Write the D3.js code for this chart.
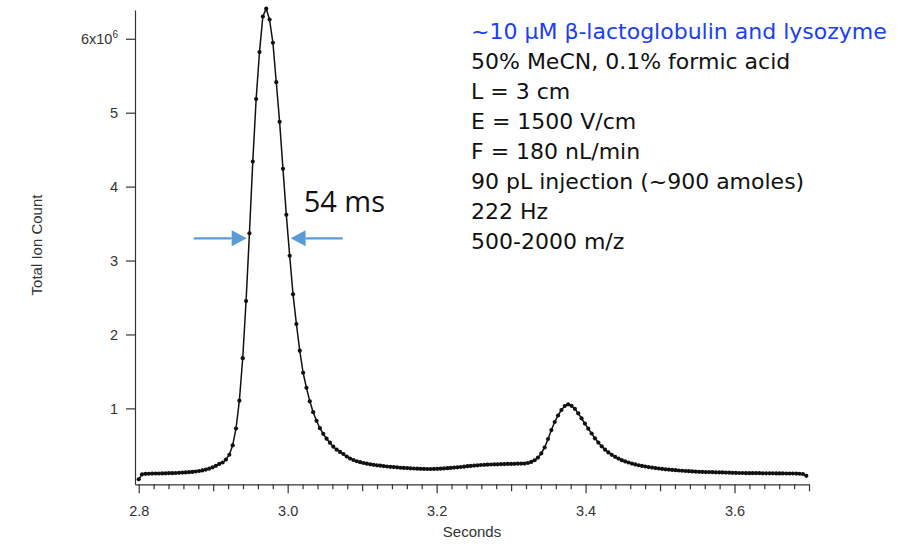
<!DOCTYPE html>
<html lang="en">
<head>
<meta charset="utf-8">
<title>Total Ion Count vs Seconds</title>
<script src="https://cdnjs.cloudflare.com/ajax/libs/d3/7.8.5/d3.min.js"></script>
<style>
  body { margin: 0; background: #fff; }
  svg { display: block; }
  .axis path, .axis line { stroke: #333; stroke-width: 1.2; }
  .axis text { fill: #333; font-family: "Liberation Sans", Arial, sans-serif; font-size: 14.5px; }
  .title { fill: #333; font-family: "Liberation Sans", Arial, sans-serif; font-size: 15px; }
  .info { font-family: "DejaVu Sans", Verdana, sans-serif; font-size: 22px; fill: #111; }
</style>
</head>
<body>
<div id="chart"></div>
<script>

// total ion count in units of 10^6, one scan every 1/222 s starting at 2.8 s
const startTime = 2.8;
const scanRate = 222;
const ionCount = [
  0.041, 0.108, 0.115, 0.116, 0.118, 0.119, 0.119, 0.120, 0.122, 0.123,
  0.124, 0.126, 0.128, 0.131, 0.134, 0.137, 0.141, 0.146, 0.153, 0.161,
  0.172, 0.185, 0.203, 0.223, 0.248, 0.268, 0.308, 0.373, 0.500, 0.728,
  1.104, 1.679, 2.452, 3.368, 4.339, 5.185, 5.820, 6.301, 6.407, 6.259,
  5.946, 5.412, 4.876, 4.240, 3.618, 3.065, 2.543, 2.141, 1.780, 1.482,
  1.278, 1.096, 0.948, 0.832, 0.732, 0.656, 0.590, 0.536, 0.482, 0.441,
  0.411, 0.383, 0.349, 0.322, 0.302, 0.285, 0.272, 0.261, 0.252, 0.243,
  0.237, 0.230, 0.225, 0.219, 0.214, 0.210, 0.206, 0.202, 0.197, 0.195,
  0.192, 0.189, 0.187, 0.184, 0.183, 0.181, 0.180, 0.180, 0.181, 0.183,
  0.185, 0.188, 0.191, 0.195, 0.199, 0.203, 0.207, 0.212, 0.218, 0.222,
  0.226, 0.230, 0.234, 0.237, 0.239, 0.241, 0.242, 0.243, 0.245, 0.246,
  0.248, 0.249, 0.250, 0.252, 0.253, 0.254, 0.261, 0.275, 0.298, 0.335,
  0.390, 0.471, 0.586, 0.707, 0.816, 0.904, 0.978, 1.032, 1.055, 1.035,
  0.994, 0.933, 0.866, 0.795, 0.726, 0.660, 0.595, 0.538, 0.487, 0.442,
  0.404, 0.372, 0.345, 0.321, 0.300, 0.283, 0.268, 0.254, 0.242, 0.231,
  0.222, 0.214, 0.206, 0.199, 0.192, 0.187, 0.181, 0.176, 0.172, 0.168,
  0.164, 0.160, 0.156, 0.153, 0.150, 0.147, 0.145, 0.142, 0.141, 0.139,
  0.138, 0.137, 0.135, 0.134, 0.133, 0.131, 0.130, 0.128, 0.127, 0.126,
  0.126, 0.124, 0.124, 0.123, 0.123, 0.123, 0.122, 0.122, 0.122, 0.122,
  0.120, 0.120, 0.120, 0.119, 0.119, 0.119, 0.118, 0.116, 0.112, 0.088
];

const xMajorTicks = [2.8, 3.0, 3.2, 3.4, 3.6];
const yTicks = [1, 2, 3, 4, 5, 6];

const infoTitle = "~10 \u03bcM \u03b2-lactoglobulin and lysozyme";
const infoLines = [
  "50% MeCN, 0.1% formic acid",
  "L = 3 cm",
  "E = 1500 V/cm",
  "F = 180 nL/min",
  "90 pL injection (~900 amoles)",
  "222 Hz",
  "500-2000 m/z"
];

// peak width marker (seconds / 10^6 counts)
const widthLabel = "54 ms";
const widthLevel = 3.3;
const leftArrow = [2.874, 2.945];
const rightArrow = [3.074, 3.004];

// svg
const width = 897;
const height = 548;

const svg = d3.select("#chart")
  .append("svg")
  .attr("width", width)
  .attr("height", height);

const data = ionCount.map((v, i) => ({t: startTime + i / scanRate, v: v}));

// scales
const x = d3.scaleLinear()
  .domain([2.795, 3.7])
  .range([135, 809]);

const y = d3.scaleLinear()
  .domain([-0.027, 6.389])
  .range([484.3, 10]);

// minor / medium ticks on x
const minorTicks = d3.range(0, 46).map(k => +(2.8 + k * 0.02).toFixed(2))
  .filter(t => Math.round(t * 100) % 10 !== 0);
const mediumTicks = d3.range(0, 10).map(k => +(2.8 + k * 0.1).toFixed(1))
  .filter(t => !xMajorTicks.includes(t));

svg.append("g")
  .attr("class", "axis")
  .attr("transform", `translate(0,${y.range()[0]})`)
  .call(d3.axisBottom(x).tickValues(minorTicks).tickSize(5).tickSizeOuter(0).tickFormat(""));

svg.append("g")
  .attr("class", "axis")
  .attr("transform", `translate(0,${y.range()[0]})`)
  .call(d3.axisBottom(x).tickValues(mediumTicks).tickSize(7).tickSizeOuter(0).tickFormat(""))
  .select(".domain").remove();

svg.append("g")
  .attr("class", "axis")
  .attr("transform", `translate(0,${y.range()[0]})`)
  .call(d3.axisBottom(x).tickValues(xMajorTicks).tickSize(9).tickPadding(12)
    .tickSizeOuter(0).tickFormat(d3.format(".1f")))
  .select(".domain").remove();

const yAxis = svg.append("g")
  .attr("class", "axis")
  .attr("transform", `translate(${x.range()[0]},0)`)
  .call(d3.axisLeft(y).tickValues(yTicks).tickSize(9).tickPadding(8)
    .tickSizeOuter(0).tickFormat(d3.format("d")));

// 6x10^6 label
yAxis.selectAll(".tick text")
  .filter(d => d === 6)
  .text("6x10")
  .append("tspan")
    .attr("dy", "-0.55em")
    .attr("font-size", "10px")
    .text("6");

// axis titles
svg.append("text")
  .attr("class", "title")
  .attr("x", (x.range()[0] + x.range()[1]) / 2)
  .attr("y", 537)
  .attr("text-anchor", "middle")
  .text("Seconds");

svg.append("text")
  .attr("class", "title")
  .attr("transform", "translate(42,245) rotate(-90)")
  .attr("text-anchor", "middle")
  .text("Total Ion Count");

// trace
const line = d3.line()
  .x(d => x(d.t))
  .y(d => y(d.v));

svg.append("path")
  .datum(data)
  .attr("fill", "none")
  .attr("stroke", "#111")
  .attr("stroke-width", 1.5)
  .attr("d", line);

svg.append("g")
  .selectAll("circle")
  .data(data)
  .enter()
  .append("circle")
    .attr("cx", d => x(d.t))
    .attr("cy", d => y(d.v))
    .attr("r", 2.1)
    .attr("fill", "#111");

// width arrows
const arrowColor = "#5b9bd5";
[leftArrow, rightArrow].forEach(a => {
  const x1 = x(a[0]), x2 = x(a[1]), yy = y(widthLevel);
  const dir = Math.sign(x2 - x1);
  const head = 15;
  svg.append("line")
    .attr("x1", x1).attr("y1", yy)
    .attr("x2", x2 - dir * head).attr("y2", yy)
    .attr("stroke", arrowColor)
    .attr("stroke-width", 2.2);
  svg.append("path")
    .attr("d", `M${x2},${yy} L${x2 - dir * head},${yy - 8} L${x2 - dir * head},${yy + 8} Z`)
    .attr("fill", arrowColor);
});

svg.append("text")
  .attr("x", x(3.0215))
  .attr("y", y(3.66))
  .attr("font-family", "'Open Sans', sans-serif")
  .attr("font-size", "29px")
  .attr("fill", "#111")
  .text(widthLabel);

// info block
const info = svg.append("g");
info.append("text")
  .attr("class", "info")
  .attr("x", 471)
  .attr("y", 39.3)
  .style("fill", "#1a40f5")
  .text(infoTitle);

info.selectAll("text.line")
  .data(infoLines)
  .enter()
  .append("text")
    .attr("class", "info line")
    .attr("x", 471)
    .attr("y", (d, i) => 39.3 + (i + 1) * 29.9)
    .text(d => d);

</script>
</body>
</html>
